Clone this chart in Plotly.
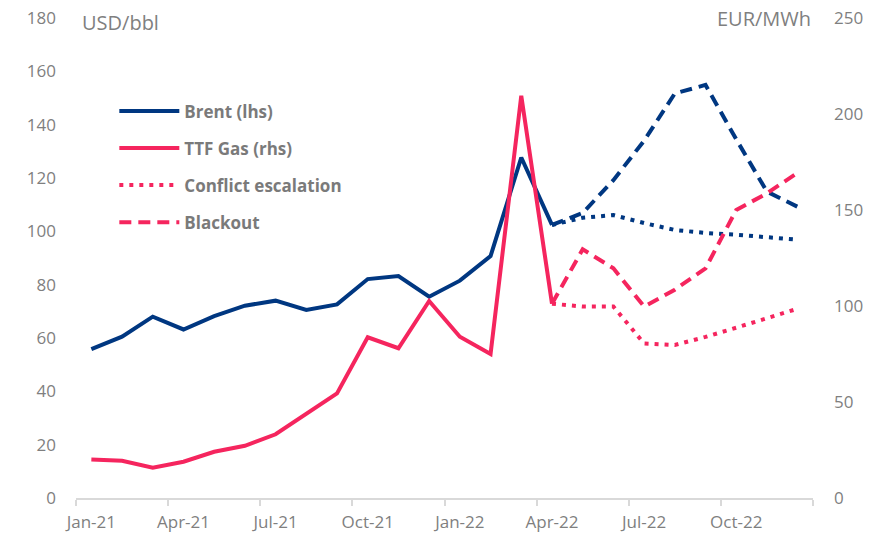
import plotly.graph_objects as go

months = ["Jan-21", "Feb-21", "Mar-21", "Apr-21", "May-21", "Jun-21", "Jul-21", "Aug-21",
          "Sep-21", "Oct-21", "Nov-21", "Dec-21", "Jan-22", "Feb-22", "Mar-22", "Apr-22",
          "May-22", "Jun-22", "Jul-22", "Aug-22", "Sep-22", "Oct-22", "Nov-22", "Dec-22"]

# Actuals Jan-21 .. Apr-22
brent_actual = [55.8, 60.5, 68.0, 63.2, 68.2, 72.1, 74.0, 70.5, 72.6, 82.1, 83.2, 75.5,
                81.5, 90.7, 127.7, 102.4]
ttf_actual = [20.1, 19.4, 15.8, 18.9, 24.1, 27.2, 33.2, 43.7, 54.5, 83.7, 78.0, 102.6,
              84.0, 75.0, 209.5, 101.2]

# Scenarios Apr-22 .. Dec-22
brent_conflict = [102.4, 105.1, 106.1, 103.1, 100.5, 99.4, 98.7, 97.9, 96.9]
brent_blackout = [102.4, 106.9, 119.2, 134.0, 151.7, 154.9, 134.5, 114.9, 109.2]
ttf_conflict = [101.2, 99.7, 99.7, 80.5, 79.7, 83.9, 88.7, 93.8, 98.6]
ttf_blackout = [101.2, 129.5, 119.6, 99.7, 108.5, 119.6, 150.0, 158.7, 169.4]

tick_labels = ["Jan-21", "Apr-21", "Jul-21", "Oct-21", "Jan-22", "Apr-22", "Jul-22", "Oct-22"]

NAVY = "#003781"
PINK = "#F5255E"
GRAY = "#7f7f7f"
AXIS = "#d9d9d9"
FONT = "Open Sans"

idx = list(range(len(months)))
x_act = idx[:len(brent_actual)]
x_scn = idx[len(brent_actual) - 1:]

fig = go.Figure()

fig.add_trace(go.Scatter(x=x_act, y=brent_actual, mode="lines", name="Brent (lhs)",
                         line=dict(color=NAVY, width=4), legendgroup="a"))
fig.add_trace(go.Scatter(x=x_act, y=ttf_actual, mode="lines", name="TTF Gas (rhs)",
                         line=dict(color=PINK, width=4), yaxis="y2", legendgroup="b"))
fig.add_trace(go.Scatter(x=x_scn, y=ttf_conflict, mode="lines", name="Conflict escalation",
                         line=dict(color=PINK, width=4, dash="4px,6px"), yaxis="y2",
                         legendgroup="c"))
fig.add_trace(go.Scatter(x=x_scn, y=ttf_blackout, mode="lines", name="Blackout",
                         line=dict(color=PINK, width=4, dash="12px,7px"), yaxis="y2",
                         legendgroup="d"))
fig.add_trace(go.Scatter(x=x_scn, y=brent_conflict, mode="lines", name="Brent conflict",
                         line=dict(color=NAVY, width=4, dash="4px,6px"), showlegend=False,
                         legendgroup="e"))
fig.add_trace(go.Scatter(x=x_scn, y=brent_blackout, mode="lines", name="Brent blackout",
                         line=dict(color=NAVY, width=4, dash="12px,7px"), showlegend=False,
                         legendgroup="f"))

fig.update_layout(
    width=877, height=534,
    margin=dict(l=76, r=64, t=18, b=36, autoexpand=False),
    paper_bgcolor="white", plot_bgcolor="white",
    font=dict(family=FONT, size=17, color=GRAY),
    showlegend=True,
    legend=dict(x=0.052, y=0.843, xanchor="left", yanchor="top",
                traceorder="grouped", tracegroupgap=12,
                font=dict(family=FONT, size=17, color="#7a7a7a", weight="bold"),
                bgcolor="rgba(0,0,0,0)", itemwidth=60),
    xaxis=dict(
        range=[-0.5, len(months) - 0.5],
        tickmode="array",
        tickvals=[i for i in idx if i % 3 == 0],
        ticktext=tick_labels,
        ticks="",
        showgrid=False, zeroline=False,
        showline=True, linecolor=AXIS, linewidth=1.5,
        ticklabelstandoff=8,
        tickfont=dict(size=17, color=GRAY),
        minor=dict(tickmode="array",
                   tickvals=[i - 0.5 for i in idx if i % 3 == 0] + [len(months) - 0.5],
                   ticks="outside", ticklen=6, tickcolor=AXIS, tickwidth=1.5,
                   showgrid=False),
        automargin=False,
    ),
    yaxis=dict(range=[0, 180], dtick=20, showgrid=False, zeroline=False, showline=False,
               ticks="", ticklabelstandoff=19, tickfont=dict(size=17, color=GRAY),
               automargin=False),
    yaxis2=dict(range=[0, 250], dtick=50, overlaying="y", side="right", showgrid=False,
                zeroline=False, showline=False, ticks="", ticklabelstandoff=20,
                tickfont=dict(size=17, color=GRAY), automargin=False),
    annotations=[
        dict(text="USD/bbl", xref="paper", yref="paper", x=0.006, y=0.99, xanchor="left",
             yanchor="middle", showarrow=False, font=dict(size=20, color=GRAY)),
        dict(text="EUR/MWh", xref="paper", yref="paper", x=1.0, y=1.0, xanchor="right",
             yanchor="middle", showarrow=False, font=dict(size=20, color=GRAY)),
    ],
)

fig.write_html("out.html", config={"displayModeBar": False},
               post_script="document.body.style.margin='0px';")
